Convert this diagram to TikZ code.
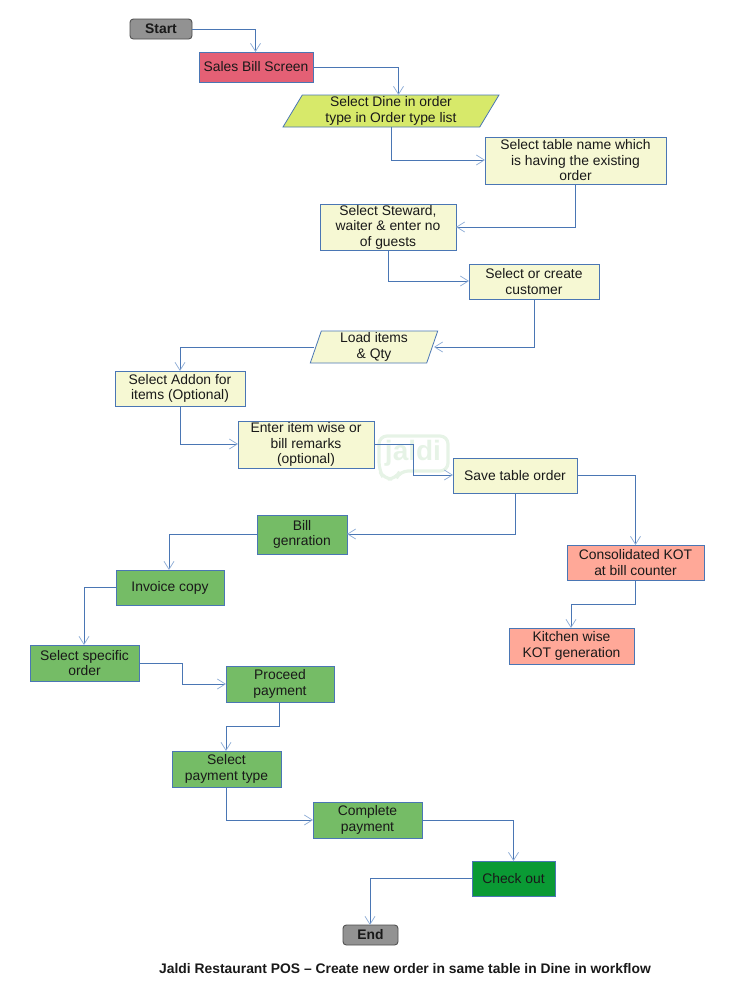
\documentclass[tikz,border=0pt]{standalone}
\usepackage{fontspec}
\setmainfont{Liberation Sans}
\usetikzlibrary{arrows.meta,shapes.geometric}
\definecolor{edge}{HTML}{4A76B4}
\definecolor{tipc}{HTML}{8FADD6}
\definecolor{cream}{HTML}{F6F8D3}
\definecolor{cgreen}{HTML}{75BC66}
\definecolor{cred}{HTML}{E46075}
\definecolor{clime}{HTML}{D7E96A}
\definecolor{csalmon}{HTML}{FFA898}
\definecolor{cdark}{HTML}{0A9A34}
\definecolor{cgray}{HTML}{929292}
\definecolor{wm}{HTML}{E6F3E6}
\tikzset{
  base/.style={font=\fontsize{10.4}{11.6}\selectfont,align=center,inner sep=0pt,outer sep=0pt,text=black!90},
  boxn/.style={base,draw=edge,line width=0.6pt},
  term/.style={base,draw=black!70,line width=0.65pt,fill=cgray,rounded corners=2.5pt,font=\fontsize{10.4}{11.6}\selectfont\bfseries},
  para/.style={boxn,trapezium,trapezium stretches=true,trapezium left angle=63.4,trapezium right angle=116.6},
  conn/.style={draw=edge,line width=0.65pt,-{Straight Barb[length=6pt,width=7.5pt,color=tipc,line width=0.55pt]}}
}
% name, x1, y1, x2, y2, style, text (all in reference pixels)
\newcommand{\bx}[7]{%
  \pgfmathsetmacro{\wdv}{(#4-#2)*0.75}\pgfmathsetmacro{\htv}{(#5-#3)*0.75}%
  \node[#6,minimum width=\wdv pt,minimum height=\htv pt] (#1) at ({(#2+#4)/2},{(#3+#5)/2}) {#7};}
\begin{document}
\begin{tikzpicture}[x=0.75pt,y=-0.75pt]
\useasboundingbox (0,0) rectangle (738,990);
% watermark
\draw[wm,line width=2.4pt,rounded corners=6pt] (379,436) -- (448,436) -- (448,471) -- (400,471) -- (396,479) -- (384,479) -- (379,470) -- cycle;
\node[font=\fontsize{21}{21}\selectfont\bfseries,text=wm,inner sep=0pt] (wmark) at (413,453) {jaldi};
% nodes
\bx{start}{130}{19}{192}{39}{term}{Start}
\bx{sales}{199}{52}{313}{82}{boxn,fill=cred}{Sales Bill Screen}
\bx{dine}{283}{95}{499}{127}{para,fill=clime}{Select Dine in order\\type in Order type list}
\bx{table}{485}{137}{666}{184}{boxn,fill=cream}{Select table name which\\is having the existing\\order}
\bx{steward}{320}{204}{456}{250}{boxn,fill=cream}{Select Steward,\\waiter \& enter no\\of guests}
\bx{customer}{469}{264}{599}{299}{boxn,fill=cream}{Select or create\\customer}
\bx{load}{310}{331}{438}{363}{para,fill=cream,trapezium left angle=76,trapezium right angle=104}{Load items\\\& Qty}
\bx{addon}{115}{371}{245}{406}{boxn,fill=cream}{Select Addon for\\items (Optional)}
\bx{remark}{238}{421}{374}{468}{boxn,fill=cream}{Enter item wise or\\bill remarks\\(optional)}
\bx{save}{453}{458}{577}{493}{boxn,fill=cream}{Save table order}
\bx{bill}{257}{515}{347}{554}{boxn,fill=cgreen}{Bill\\genration}
\bx{invoice}{116}{570}{224}{605}{boxn,fill=cgreen}{Invoice copy}
\bx{specific}{30}{645}{139}{681}{boxn,fill=cgreen}{Select specific\\order}
\bx{proceed}{226}{666}{334}{702}{boxn,fill=cgreen}{Proceed\\payment}
\bx{paytype}{172}{751}{281}{787}{boxn,fill=cgreen}{Select\\payment type}
\bx{complete}{313}{802}{422}{838}{boxn,fill=cgreen}{Complete\\payment}
\bx{checkout}{472}{861}{555}{896}{boxn,fill=cdark}{Check out}
\bx{endn}{343}{925}{398}{945}{term}{End}
\bx{kot}{567}{545}{704}{580}{boxn,fill=csalmon}{Consolidated KOT\\at bill counter}
\bx{kitchen}{509}{628}{634}{664}{boxn,fill=csalmon}{Kitchen wise\\KOT generation}
\node[font=\fontsize{10.4}{12}\selectfont\bfseries,inner sep=0pt,text=black!90] (title) at (405,969) {Jaldi Restaurant POS – Create new order in same table in Dine in workflow};
% anchor points off the centre lines
\coordinate (dineIn) at (398.5,95);
\coordinate (tableOut) at (575.5,184);
\coordinate (tableIn) at (485,160);
\coordinate (stewardIn) at (456,227);
\coordinate (loadIn) at (434,347);
\coordinate (loadOut) at (314,347);
\coordinate (addonOut) at (180,406);
\coordinate (addonIn) at (180,371);
\coordinate (remarkIn) at (238,444);
\coordinate (remarkOut) at (374,444);
\coordinate (saveIn) at (453,475);
\coordinate (saveOut) at (515,493);
\coordinate (billIn) at (347,534);
\coordinate (kotIn) at (635.5,545);
\coordinate (kotOut) at (635.5,580);
\coordinate (kitchenIn) at (571,628);
\coordinate (invoiceIn) at (169,570);
\coordinate (specificIn) at (84,645);
\coordinate (proceedIn) at (226,684);
\coordinate (proceedOut) at (279.5,702);
\coordinate (payIn) at (226,751);
\coordinate (payOut) at (226,787);
\coordinate (completeIn) at (313,820);
\coordinate (checkIn) at (513.5,861);
\coordinate (endIn) at (370,925);
\coordinate (startIn) at (255.5,52);
\coordinate (customerIn) at (469,281);
\coordinate (stewardOut) at (388,250);
\coordinate (customerOut) at (534,299);
% connectors
\draw[conn] (start.east) -| (startIn);
\draw[conn] (sales.east) -| (dineIn);
\draw[conn] (dine.south) |- (tableIn);
\draw[conn] (tableOut) |- (stewardIn);
\draw[conn] (stewardOut) |- (customerIn);
\draw[conn] (customerOut) |- (loadIn);
\draw[conn] (loadOut) -| (addonIn);
\draw[conn] (addonOut) |- (remarkIn);
\draw[conn] (remarkOut) -- ++(39,0) |- (saveIn);
\draw[conn] (save.east) -| (kotIn);
\draw[conn] (saveOut) |- (billIn);
\draw[conn] (bill.west) -| (invoiceIn);
\draw[conn] (invoice.west) -| (specificIn);
\draw[conn] (specific.east) -- ++(43,0) |- (proceedIn);
\draw[conn] (proceedOut) |- (226,726) -- (payIn);
\draw[conn] (payOut) |- (completeIn);
\draw[conn] (complete.east) -| (checkIn);
\draw[conn] (checkout.west) -| (endIn);
\draw[conn] (kotOut) |- (571,604) -- (kitchenIn);
\end{tikzpicture}
\end{document}
